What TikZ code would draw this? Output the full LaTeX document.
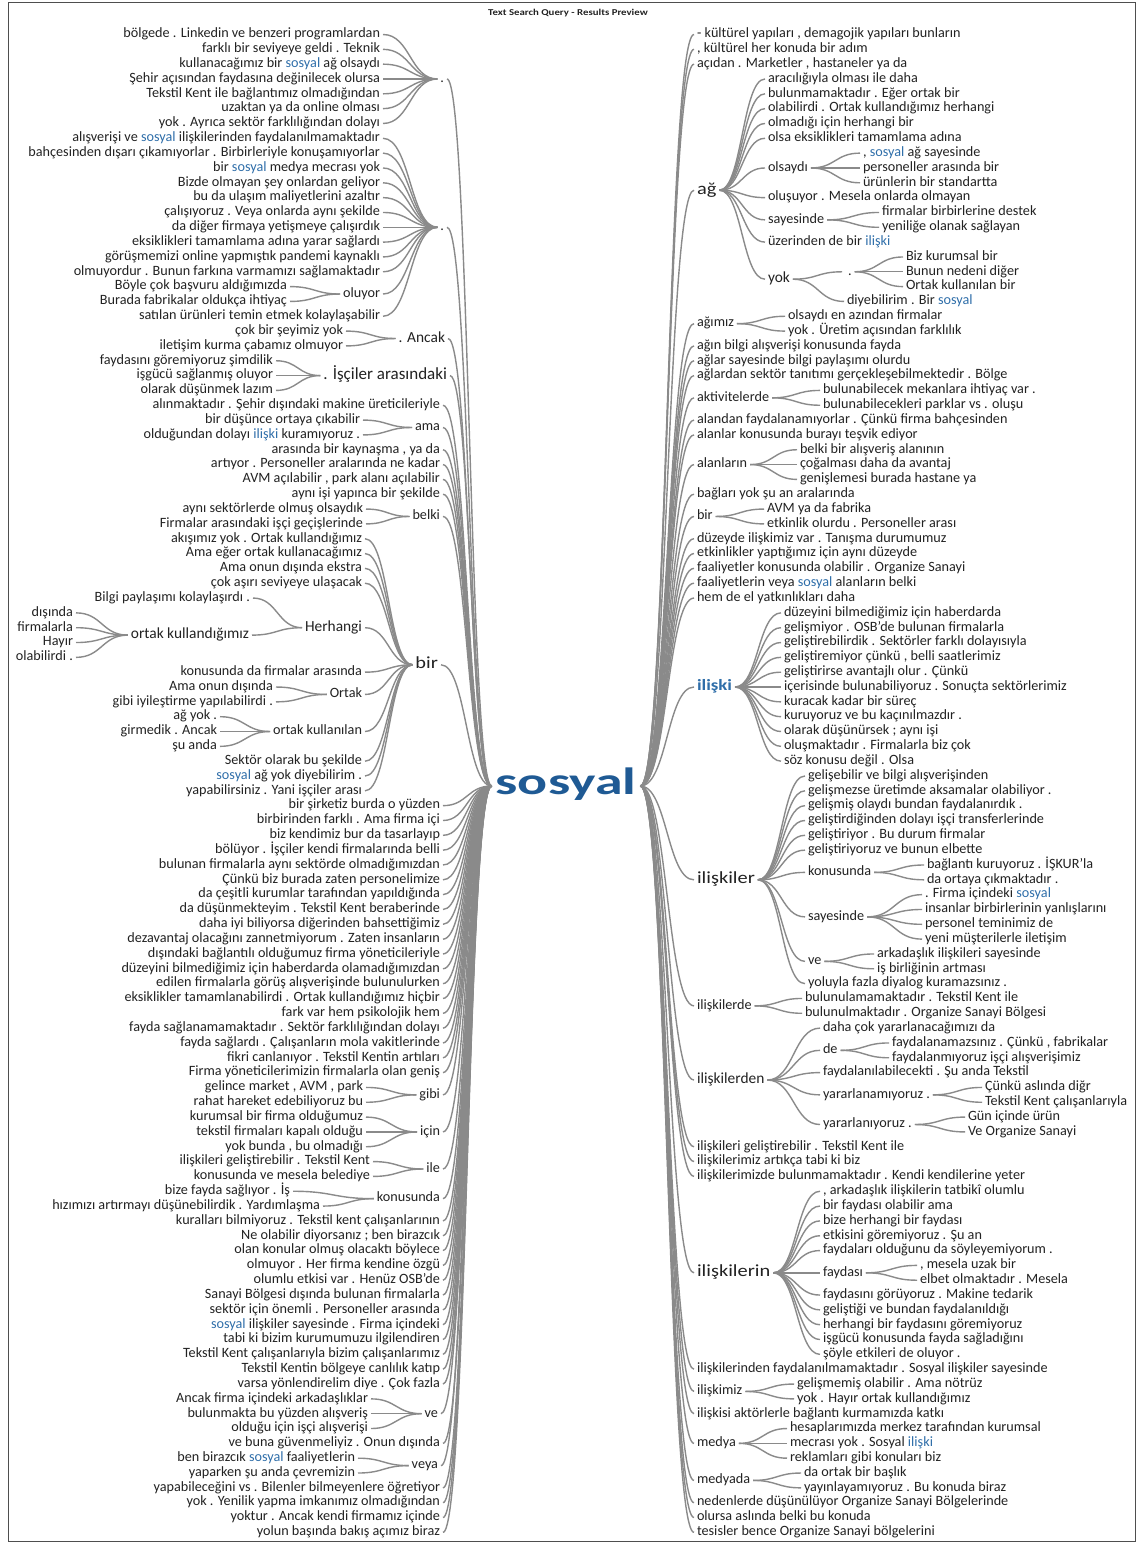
\documentclass[tikz,border=0pt]{standalone}
\usepackage{fontspec}
\setmainfont{Carlito}
\newfontfamily\wideface{Carlito}[FakeStretch=1.2]
\newfontfamily\rootface{Carlito}[FakeStretch=1.47]
\usepackage{tikz}
\usetikzlibrary{calc}
\usepackage{xcolor}
\definecolor{ink}{HTML}{222222}
\definecolor{wire}{HTML}{8A8A8A}
\definecolor{hlblue}{HTML}{2F6EA9}
\definecolor{rootblue}{HTML}{1F5A94}
\newcommand{\hl}[1]{\textcolor{hlblue}{#1}}

\begin{document}
\begin{tikzpicture}[x=1pt,y=-1pt,declare function={row(\i)=34.5+14.83*\i;}]
  \tikzstyle{txt}=[inner sep=0pt,outer sep=3pt,text=ink,font=\fontsize{14.2}{16}\selectfont,text height=9.9pt,text depth=3.3pt]
  \tikzstyle{lft}=[txt,anchor=east]
  \tikzstyle{rgt}=[txt,anchor=west]
  \tikzstyle{med}=[font=\fontsize{15.4}{17}\selectfont,text height=10.8pt,text depth=3.6pt]
  \tikzstyle{mid}=[font=\fontsize{17}{19}\selectfont,text height=11.9pt,text depth=4pt]
  \tikzstyle{big}=[font=\wideface\fontsize{17}{19}\selectfont,text height=11.9pt,text depth=4pt]
  \tikzstyle{link}=[draw=wire,line width=1.4pt]
  \tikzstyle{wt}=[to path={let \p1=(\tikztostart.east),\p2=(\tikztotarget.west),\n1={(\x1+\x2)/2} in (\p1) .. controls (\n1,\y1) and (\n1,\y2) .. (\p2)}]

  \useasboundingbox (0,0) rectangle (1136,1544);
  \draw[ink!80,line width=1pt] (8,2.5) rectangle (1135,1541);
  \node[font=\wideface\bfseries\fontsize{9}{11}\selectfont,text=ink] (title) at (568,13) {Text Search Query - Results Preview};

  \node[inner sep=0pt,outer sep=4pt,text=rootblue,font=\rootface\bfseries\fontsize{38}{40}\selectfont,text height=26.6pt,text depth=8.9pt] (s) at (566,786) {sosyal};

  % left side: words before sosyal
  \node[lft] (Ldot1)      at (447,{row(3)})    {.\hspace{12pt}};
  \node[lft] (L0)         at (383,{row(0)})    {bölgede . Linkedin ve benzeri programlardan};
  \node[lft] (L1)         at (383,{row(1)})    {farklı bir seviyeye geldi . Teknik};
  \node[lft] (L2)         at (383,{row(2)})    {kullanacağımız bir \hl{sosyal} ağ olsaydı};
  \node[lft] (L3)         at (383,{row(3)})    {Şehir açısından faydasına değinilecek olursa};
  \node[lft] (L4)         at (383,{row(4)})    {Tekstil Kent ile bağlantımız olmadığından};
  \node[lft] (L5)         at (383,{row(5)})    {uzaktan ya da online olması};
  \node[lft] (L6)         at (383,{row(6)})    {yok . Ayrıca sektör farklılığından dolayı};

  \node[lft] (Ldot2)      at (447,{row(13)})   {.\hspace{12pt}};
  \node[lft] (L7)         at (383,{row(7)})    {alışverişi ve \hl{sosyal} ilişkilerinden faydalanılmamaktadır};
  \node[lft] (L8)         at (383,{row(8)})    {bahçesinden dışarı çıkamıyorlar . Birbirleriyle konuşamıyorlar};
  \node[lft] (L9)         at (383,{row(9)})    {bir \hl{sosyal} medya mecrası yok};
  \node[lft] (L10)        at (383,{row(10)})   {Bizde olmayan şey onlardan geliyor};
  \node[lft] (L11)        at (383,{row(11)})   {bu da ulaşım maliyetlerini azaltır};
  \node[lft] (L12)        at (383,{row(12)})   {çalışıyoruz . Veya onlarda aynı şekilde};
  \node[lft] (L13)        at (383,{row(13)})   {da diğer firmaya yetişmeye çalışırdık};
  \node[lft] (L14)        at (383,{row(14)})   {eksiklikleri tamamlama adına yarar sağlardı};
  \node[lft] (L15)        at (383,{row(15)})   {görüşmemizi online yapmıştık pandemi kaynaklı};
  \node[lft] (L16)        at (383,{row(16)})   {olmuyordur . Bunun farkına varmamızı sağlamaktadır};
  \node[lft] (Loluyor)    at (383,{row(17.5)}) {oluyor};
  \node[lft] (L17)        at (290,{row(17)})   {Böyle çok başvuru aldığımızda};
  \node[lft] (L18)        at (290,{row(18)})   {Burada fabrikalar oldukça ihtiyaç};
  \node[lft] (L19)        at (383,{row(19)})   {satılan ürünleri temin etmek kolaylaşabilir};

  \node[lft,med] (Lancak) at (448,{row(20.5)}) {. Ancak};
  \node[lft] (L20)        at (346,{row(20)})   {çok bir şeyimiz yok};
  \node[lft] (L21)        at (346,{row(21)})   {iletişim kurma çabamız olmuyor};
  \node[lft,mid] (Lisciler) at (450,{row(23)}) {. İşçiler arasındaki};
  \node[lft] (L22)        at (276,{row(22)})   {faydasını göremiyoruz şimdilik};
  \node[lft] (L23)        at (276,{row(23)})   {işgücü sağlanmış oluyor};
  \node[lft] (L24)        at (276,{row(24)})   {olarak düşünmek lazım};
  \node[lft] (L25)        at (443,{row(25)})   {alınmaktadır . Şehir dışındaki makine üreticileriyle};
  \node[lft] (Lama)       at (443,{row(26.5)}) {ama};
  \node[lft] (L26)        at (363,{row(26)})   {bir düşünce ortaya çıkabilir};
  \node[lft] (L27)        at (363,{row(27)})   {olduğundan dolayı \hl{ilişki} kuramıyoruz .};
  \node[lft] (L28)        at (443,{row(28)})   {arasında bir kaynaşma , ya da};
  \node[lft] (L29)        at (443,{row(29)})   {artıyor . Personeller aralarında ne kadar};
  \node[lft] (L30)        at (443,{row(30)})   {AVM açılabilir , park alanı açılabilir};
  \node[lft] (L31)        at (443,{row(31)})   {aynı işi yapınca bir şekilde};
  \node[lft] (Lbelki)     at (443,{row(32.5)}) {belki};
  \node[lft] (L32)        at (366,{row(32)})   {aynı sektörlerde olmuş olsaydık};
  \node[lft] (L33)        at (366,{row(33)})   {Firmalar arasındaki işçi geçişlerinde};

  \node[lft,big] (Lbir)   at (441,{row(42.5)}) {bir};
  \node[lft] (L34)        at (365,{row(34)})   {akışımız yok . Ortak kullandığımız};
  \node[lft] (L35)        at (365,{row(35)})   {Ama eğer ortak kullanacağımız};
  \node[lft] (L36)        at (365,{row(36)})   {Ama onun dışında ekstra};
  \node[lft] (L37)        at (365,{row(37)})   {çok aşırı seviyeye ulaşacak};
  \node[lft,med] (Lherhangi) at (365,{row(40)}) {Herhangi};
  \node[lft] (L38)        at (253,{row(38)})   {Bilgi paylaşımı kolaylaşırdı .};
  \node[lft,med] (Lortakk) at (252,{row(40.5)}) {ortak kullandığımız};
  \node[lft] (L39)        at (76,{row(39)})    {dışında};
  \node[lft] (L40)        at (76,{row(40)})    {firmalarla};
  \node[lft] (L41)        at (76,{row(41)})    {Hayır};
  \node[lft] (L42)        at (76,{row(42)})    {olabilirdi .};
  \node[lft] (L43)        at (365,{row(43)})   {konusunda da firmalar arasında};
  \node[lft] (Lortak)     at (365,{row(44.5)}) {Ortak};
  \node[lft] (L44)        at (276,{row(44)})   {Ama onun dışında};
  \node[lft] (L45)        at (276,{row(45)})   {gibi iyileştirme yapılabilirdi .};
  \node[lft] (Lortakkl)   at (365,{row(47)})   {ortak kullanılan};
  \node[lft] (L46)        at (220,{row(46)})   {ağ yok .};
  \node[lft] (L47)        at (220,{row(47)})   {girmedik . Ancak};
  \node[lft] (L48)        at (220,{row(48)})   {şu anda};
  \node[lft] (L49)        at (365,{row(49)})   {Sektör olarak bu şekilde};
  \node[lft] (L50)        at (365,{row(50)})   {\hl{sosyal} ağ yok diyebilirim .};
  \node[lft] (L51)        at (365,{row(51)})   {yapabilirsiniz . Yani işçiler arası};

  \node[lft] (L52)        at (443,{row(52)})   {bir şirketiz burda o yüzden};
  \node[lft] (L53)        at (443,{row(53)})   {birbirinden farklı . Ama firma içi};
  \node[lft] (L54)        at (443,{row(54)})   {biz kendimiz bur da tasarlayıp};
  \node[lft] (L55)        at (443,{row(55)})   {bölüyor . İşçiler kendi firmalarında belli};
  \node[lft] (L56)        at (443,{row(56)})   {bulunan firmalarla aynı sektörde olmadığımızdan};
  \node[lft] (L57)        at (443,{row(57)})   {Çünkü biz burada zaten personelimize};
  \node[lft] (L58)        at (443,{row(58)})   {da çeşitli kurumlar tarafından yapıldığında};
  \node[lft] (L59)        at (443,{row(59)})   {da düşünmekteyim . Tekstil Kent beraberinde};
  \node[lft] (L60)        at (443,{row(60)})   {daha iyi biliyorsa diğerinden bahsettiğimiz};
  \node[lft] (L61)        at (443,{row(61)})   {dezavantaj olacağını zannetmiyorum . Zaten insanların};
  \node[lft] (L62)        at (443,{row(62)})   {dışındaki bağlantılı olduğumuz firma yöneticileriyle};
  \node[lft] (L63)        at (443,{row(63)})   {düzeyini bilmediğimiz için haberdarda olamadığımızdan};
  \node[lft] (L64)        at (443,{row(64)})   {edilen firmalarla görüş alışverişinde bulunulurken};
  \node[lft] (L65)        at (443,{row(65)})   {eksiklikler tamamlanabilirdi . Ortak kullandığımız hiçbir};
  \node[lft] (L66)        at (443,{row(66)})   {fark var hem psikolojik hem};
  \node[lft] (L67)        at (443,{row(67)})   {fayda sağlanamamaktadır . Sektör farklılığından dolayı};
  \node[lft] (L68)        at (443,{row(68)})   {fayda sağlardı . Çalışanların mola vakitlerinde};
  \node[lft] (L69)        at (443,{row(69)})   {fikri canlanıyor . Tekstil Kentin artıları};
  \node[lft] (L70)        at (443,{row(70)})   {Firma yöneticilerimizin firmalarla olan geniş};
  \node[lft] (Lgibi)      at (443,{row(71.5)}) {gibi};
  \node[lft] (L71)        at (366,{row(71)})   {gelince market , AVM , park};
  \node[lft] (L72)        at (366,{row(72)})   {rahat hareket edebiliyoruz bu};
  \node[lft] (Licin)      at (443,{row(74)})   {için};
  \node[lft] (L73)        at (366,{row(73)})   {kurumsal bir firma olduğumuz};
  \node[lft] (L74)        at (366,{row(74)})   {tekstil firmaları kapalı olduğu};
  \node[lft] (L75)        at (366,{row(75)})   {yok bunda , bu olmadığı};
  \node[lft] (Lile)       at (443,{row(76.5)}) {ile};
  \node[lft] (L76)        at (373,{row(76)})   {ilişkileri geliştirebilir . Tekstil Kent};
  \node[lft] (L77)        at (373,{row(77)})   {konusunda ve mesela belediye};
  \node[lft] (Lkonusunda) at (443,{row(78.5)}) {konusunda};
  \node[lft] (L78)        at (293,{row(78)})   {bize fayda sağlıyor . İş};
  \node[lft] (L79)        at (323,{row(79)})   {hızımızı artırmayı düşünebilirdik . Yardımlaşma};
  \node[lft] (L80)        at (443,{row(80)})   {kuralları bilmiyoruz . Tekstil kent çalışanlarının};
  \node[lft] (L81)        at (443,{row(81)})   {Ne olabilir diyorsanız ; ben birazcık};
  \node[lft] (L82)        at (443,{row(82)})   {olan konular olmuş olacaktı böylece};
  \node[lft] (L83)        at (443,{row(83)})   {olmuyor . Her firma kendine özgü};
  \node[lft] (L84)        at (443,{row(84)})   {olumlu etkisi var . Henüz OSB'de};
  \node[lft] (L85)        at (443,{row(85)})   {Sanayi Bölgesi dışında bulunan firmalarla};
  \node[lft] (L86)        at (443,{row(86)})   {sektör için önemli . Personeller arasında};
  \node[lft] (L87)        at (443,{row(87)})   {\hl{sosyal} ilişkiler sayesinde . Firma içindeki};
  \node[lft] (L88)        at (443,{row(88)})   {tabi ki bizim kurumumuzu ilgilendiren};
  \node[lft] (L89)        at (443,{row(89)})   {Tekstil Kent çalışanlarıyla bizim çalışanlarımız};
  \node[lft] (L90)        at (443,{row(90)})   {Tekstil Kentin bölgeye canlılık katıp};
  \node[lft] (L91)        at (443,{row(91)})   {varsa yönlendirelim diye . Çok fazla};
  \node[lft] (Lve)        at (441,{row(93)})   {ve};
  \node[lft] (L92)        at (371,{row(92)})   {Ancak firma içindeki arkadaşlıklar};
  \node[lft] (L93)        at (371,{row(93)})   {bulunmakta bu yüzden alışveriş};
  \node[lft] (L94)        at (371,{row(94)})   {olduğu için işçi alışverişi};
  \node[lft] (L95)        at (443,{row(95)})   {ve buna güvenmeliyiz . Onun dışında};
  \node[lft] (Lveya)      at (441,{row(96.5)}) {veya};
  \node[lft] (L96)        at (358,{row(96)})   {ben birazcık \hl{sosyal} faaliyetlerin};
  \node[lft] (L97)        at (358,{row(97)})   {yaparken şu anda çevremizin};
  \node[lft] (L98)        at (443,{row(98)})   {yapabileceğini vs . Bilenler bilmeyenlere öğretiyor};
  \node[lft] (L99)        at (443,{row(99)})   {yok . Yenilik yapma imkanımız olmadığından};
  \node[lft] (L100)       at (443,{row(100)})  {yoktur . Ancak kendi firmamız içinde};
  \node[lft] (L101)       at (443,{row(101)})  {yolun başında bakış açımız biraz};

  % right side: words after sosyal
  \node[rgt] (R0)         at (694,{row(0)})    {- kültürel yapıları , demagojik yapıları bunların};
  \node[rgt] (R1)         at (694,{row(1)})    {, kültürel her konuda bir adım};
  \node[rgt] (R2)         at (694,{row(2)})    {açıdan . Marketler , hastaneler ya da};
  \node[rgt,big] (Rag)    at (694,{row(10.5)}) {ağ};
  \node[rgt] (R3)         at (765,{row(3)})    {aracılığıyla olması ile daha};
  \node[rgt] (R4)         at (765,{row(4)})    {bulunmamaktadır . Eğer ortak bir};
  \node[rgt] (R5)         at (765,{row(5)})    {olabilirdi . Ortak kullandığımız herhangi};
  \node[rgt] (R6)         at (765,{row(6)})    {olmadığı için herhangi bir};
  \node[rgt] (R7)         at (765,{row(7)})    {olsa eksiklikleri tamamlama adına};
  \node[rgt] (Rolsaydi)   at (765,{row(9)})    {olsaydı};
  \node[rgt] (R8)         at (860,{row(8)})    {, \hl{sosyal} ağ sayesinde};
  \node[rgt] (R9)         at (860,{row(9)})    {personeller arasında bir};
  \node[rgt] (R10)        at (860,{row(10)})   {ürünlerin bir standartta};
  \node[rgt] (R11)        at (765,{row(11)})   {oluşuyor . Mesela onlarda olmayan};
  \node[rgt] (Rsayesinde) at (765,{row(12.5)}) {sayesinde};
  \node[rgt] (R12)        at (879,{row(12)})   {firmalar birbirlerine destek};
  \node[rgt] (R13)        at (879,{row(13)})   {yeniliğe olanak sağlayan};
  \node[rgt] (R14)        at (765,{row(14)})   {üzerinden de bir \hl{ilişki}};
  \node[rgt,med] (Ryok)   at (765,{row(16.5)}) {yok};
  \node[rgt] (Rdot)       at (842,{row(16)})   {\hspace{3pt}.\hspace{6pt}};
  \node[rgt] (R15)        at (903,{row(15)})   {Biz kurumsal bir};
  \node[rgt] (R16)        at (903,{row(16)})   {Bunun nedeni diğer};
  \node[rgt] (R17)        at (903,{row(17)})   {Ortak kullanılan bir};
  \node[rgt] (R18)        at (844,{row(18)})   {diyebilirim . Bir \hl{sosyal}};
  \node[rgt] (Ragimiz)    at (694,{row(19.5)}) {ağımız};
  \node[rgt] (R19)        at (785,{row(19)})   {olsaydı en azından firmalar};
  \node[rgt] (R20)        at (785,{row(20)})   {yok . Üretim açısından farklılık};
  \node[rgt] (R21)        at (694,{row(21)})   {ağın bilgi alışverişi konusunda fayda};
  \node[rgt] (R22)        at (694,{row(22)})   {ağlar sayesinde bilgi paylaşımı olurdu};
  \node[rgt] (R23)        at (694,{row(23)})   {ağlardan sektör tanıtımı gerçekleşebilmektedir . Bölge};
  \node[rgt] (Raktivitelerde) at (694,{row(24.5)}) {aktivitelerde};
  \node[rgt] (R24)        at (820,{row(24)})   {bulunabilecek mekanlara ihtiyaç var .};
  \node[rgt] (R25)        at (820,{row(25)})   {bulunabilecekleri parklar vs . oluşu};
  \node[rgt] (R26)        at (694,{row(26)})   {alandan faydalanamıyorlar . Çünkü firma bahçesinden};
  \node[rgt] (R27)        at (694,{row(27)})   {alanlar konusunda burayı teşvik ediyor};
  \node[rgt] (Ralanlarin) at (694,{row(29)})   {alanların};
  \node[rgt] (R28)        at (797,{row(28)})   {belki bir alışveriş alanının};
  \node[rgt] (R29)        at (797,{row(29)})   {çoğalması daha da avantaj};
  \node[rgt] (R30)        at (797,{row(30)})   {genişlemesi burada hastane ya};
  \node[rgt] (R31)        at (694,{row(31)})   {bağları yok şu an aralarında};
  \node[rgt] (Rbir)       at (694,{row(32.5)}) {bir};
  \node[rgt] (R32)        at (764,{row(32)})   {AVM ya da fabrika};
  \node[rgt] (R33)        at (764,{row(33)})   {etkinlik olurdu . Personeller arası};
  \node[rgt] (R34)        at (694,{row(34)})   {düzeyde ilişkimiz var . Tanışma durumumuz};
  \node[rgt] (R35)        at (694,{row(35)})   {etkinlikler yaptığımız için aynı düzeyde};
  \node[rgt] (R36)        at (694,{row(36)})   {faaliyetler konusunda olabilir . Organize Sanayi};
  \node[rgt] (R37)        at (694,{row(37)})   {faaliyetlerin veya \hl{sosyal} alanların belki};
  \node[rgt] (R38)        at (694,{row(38)})   {hem de el yatkınlıkları daha};

  \node[rgt,text=hlblue,font=\wideface\bfseries\fontsize{15.7}{17}\selectfont,text height=11pt,text depth=3.7pt] (Riliski) at (694,{row(44)}) {ilişki};
  \node[rgt] (R39)        at (781,{row(39)})   {düzeyini bilmediğimiz için haberdarda};
  \node[rgt] (R40)        at (781,{row(40)})   {gelişmiyor . OSB'de bulunan firmalarla};
  \node[rgt] (R41)        at (781,{row(41)})   {geliştirebilirdik . Sektörler farklı dolayısıyla};
  \node[rgt] (R42)        at (781,{row(42)})   {geliştiremiyor çünkü , belli saatlerimiz};
  \node[rgt] (R43)        at (781,{row(43)})   {geliştirirse avantajlı olur . Çünkü};
  \node[rgt] (R44)        at (781,{row(44)})   {içerisinde bulunabiliyoruz . Sonuçta sektörlerimiz};
  \node[rgt] (R45)        at (781,{row(45)})   {kuracak kadar bir süreç};
  \node[rgt] (R46)        at (781,{row(46)})   {kuruyoruz ve bu kaçınılmazdır .};
  \node[rgt] (R47)        at (781,{row(47)})   {olarak düşünürsek ; aynı işi};
  \node[rgt] (R48)        at (781,{row(48)})   {oluşmaktadır . Firmalarla biz çok};
  \node[rgt] (R49)        at (781,{row(49)})   {söz konusu değil . Olsa};

  \node[rgt,big] (Riliskiler) at (694,{row(57)}) {ilişkiler};
  \node[rgt] (R50)        at (805,{row(50)})   {gelişebilir ve bilgi alışverişinden};
  \node[rgt] (R51)        at (805,{row(51)})   {gelişmezse üretimde aksamalar olabiliyor .};
  \node[rgt] (R52)        at (805,{row(52)})   {gelişmiş olaydı bundan faydalanırdık .};
  \node[rgt] (R53)        at (805,{row(53)})   {geliştirdiğinden dolayı işçi transferlerinde};
  \node[rgt] (R54)        at (805,{row(54)})   {geliştiriyor . Bu durum firmalar};
  \node[rgt] (R55)        at (805,{row(55)})   {geliştiriyoruz ve bunun elbette};
  \node[rgt] (Rkonusunda) at (805,{row(56.5)}) {konusunda};
  \node[rgt] (R56)        at (924,{row(56)})   {bağlantı kuruyoruz . İŞKUR'la};
  \node[rgt] (R57)        at (924,{row(57)})   {da ortaya çıkmaktadır .};
  \node[rgt] (Rsayesinde2) at (805,{row(59.5)}) {sayesinde};
  \node[rgt] (R58)        at (922,{row(58)})   {. Firma içindeki \hl{sosyal}};
  \node[rgt] (R59)        at (922,{row(59)})   {insanlar birbirlerinin yanlışlarını};
  \node[rgt] (R60)        at (922,{row(60)})   {personel teminimiz de};
  \node[rgt] (R61)        at (922,{row(61)})   {yeni müşterilerle iletişim};
  \node[rgt] (Rve)        at (805,{row(62.5)}) {ve};
  \node[rgt] (R62)        at (874,{row(62)})   {arkadaşlık ilişkileri sayesinde};
  \node[rgt] (R63)        at (874,{row(63)})   {iş birliğinin artması};
  \node[rgt] (R64)        at (805,{row(64)})   {yoluyla fazla diyalog kuramazsınız .};

  \node[rgt] (Riliskilerde) at (694,{row(65.5)}) {ilişkilerde};
  \node[rgt] (R65)        at (802,{row(65)})   {bulunulamamaktadır . Tekstil Kent ile};
  \node[rgt] (R66)        at (802,{row(66)})   {bulunulmaktadır . Organize Sanayi Bölgesi};
  \node[rgt,med] (Riliskilerden) at (694,{row(70.5)}) {ilişkilerden};
  \node[rgt] (R67)        at (820,{row(67)})   {daha çok yararlanacağımızı da};
  \node[rgt] (Rde)        at (820,{row(68.5)}) {de};
  \node[rgt] (R68)        at (889,{row(68)})   {faydalanamazsınız . Çünkü , fabrikalar};
  \node[rgt] (R69)        at (889,{row(69)})   {faydalanmıyoruz işçi alışverişimiz};
  \node[rgt] (R70)        at (820,{row(70)})   {faydalanılabilecekti . Şu anda Tekstil};
  \node[rgt] (Ryararlanamiyoruz) at (820,{row(71.5)}) {yararlanamıyoruz .};
  \node[rgt] (R71)        at (982,{row(71)})   {Çünkü aslında diğr};
  \node[rgt] (R72)        at (982,{row(72)})   {Tekstil Kent çalışanlarıyla};
  \node[rgt] (Ryararlaniyoruz) at (820,{row(73.5)}) {yararlanıyoruz .};
  \node[rgt] (R73)        at (965,{row(73)})   {Gün içinde ürün};
  \node[rgt] (R74)        at (965,{row(74)})   {Ve Organize Sanayi};
  \node[rgt] (R75)        at (694,{row(75)})   {ilişkileri geliştirebilir . Tekstil Kent ile};
  \node[rgt] (R76)        at (694,{row(76)})   {ilişkilerimiz artıkça tabi ki biz};
  \node[rgt] (R77)        at (694,{row(77)})   {ilişkilerimizde bulunmamaktadır . Kendi kendilerine yeter};

  \node[rgt,big] (Riliskilerin) at (694,{row(83.5)}) {ilişkilerin};
  \node[rgt] (R78)        at (820,{row(78)})   {, arkadaşlık ilişkilerin tatbikî olumlu};
  \node[rgt] (R79)        at (820,{row(79)})   {bir faydası olabilir ama};
  \node[rgt] (R80)        at (820,{row(80)})   {bize herhangi bir faydası};
  \node[rgt] (R81)        at (820,{row(81)})   {etkisini göremiyoruz . Şu an};
  \node[rgt] (R82)        at (820,{row(82)})   {faydaları olduğunu da söyleyemiyorum .};
  \node[rgt] (Rfaydasi)   at (820,{row(83.5)}) {faydası};
  \node[rgt] (R83)        at (917,{row(83)})   {, mesela uzak bir};
  \node[rgt] (R84)        at (917,{row(84)})   {elbet olmaktadır . Mesela};
  \node[rgt] (R85)        at (820,{row(85)})   {faydasını görüyoruz . Makine tedarik};
  \node[rgt] (R86)        at (820,{row(86)})   {geliştiği ve bundan faydalanıldığı};
  \node[rgt] (R87)        at (820,{row(87)})   {herhangi bir faydasını göremiyoruz};
  \node[rgt] (R88)        at (820,{row(88)})   {işgücü konusunda fayda sağladığını};
  \node[rgt] (R89)        at (820,{row(89)})   {şöyle etkileri de oluyor .};
  \node[rgt] (R90)        at (694,{row(90)})   {ilişkilerinden faydalanılmamaktadır . Sosyal ilişkiler sayesinde};
  \node[rgt] (Riliskimiz) at (694,{row(91.5)}) {ilişkimiz};
  \node[rgt] (R91)        at (794,{row(91)})   {gelişmemiş olabilir . Ama nötrüz};
  \node[rgt] (R92)        at (794,{row(92)})   {yok . Hayır ortak kullandığımız};
  \node[rgt] (R93)        at (694,{row(93)})   {ilişkisi aktörlerle bağlantı kurmamızda katkı};
  \node[rgt] (Rmedya)     at (694,{row(95)})   {medya};
  \node[rgt] (R94)        at (787,{row(94)})   {hesaplarımızda merkez tarafından kurumsal};
  \node[rgt] (R95)        at (787,{row(95)})   {mecrası yok . Sosyal \hl{ilişki}};
  \node[rgt] (R96)        at (787,{row(96)})   {reklamları gibi konuları biz};
  \node[rgt] (Rmedyada)   at (694,{row(97.5)}) {medyada};
  \node[rgt] (R97)        at (801,{row(97)})   {da ortak bir başlık};
  \node[rgt] (R98)        at (801,{row(98)})   {yayınlayamıyoruz . Bu konuda biraz};
  \node[rgt] (R99)        at (694,{row(99)})   {nedenlerde düşünülüyor Organize Sanayi Bölgelerinde};
  \node[rgt] (R100)       at (694,{row(100)})  {olursa aslında belki bu konuda};
  \node[rgt] (R101)       at (694,{row(101)})  {tesisler bence Organize Sanayi bölgelerini};

  % left connectors
  \path[link]
  (L0) edge[wt] (Ldot1)  (L1) edge[wt] (Ldot1)  (L2) edge[wt] (Ldot1)  (L3) edge[wt] (Ldot1)
  (L4) edge[wt] (Ldot1)  (L5) edge[wt] (Ldot1)  (L6) edge[wt] (Ldot1)
  (L7) edge[wt] (Ldot2)  (L8) edge[wt] (Ldot2)  (L9) edge[wt] (Ldot2)  (L10) edge[wt] (Ldot2)
  (L11) edge[wt] (Ldot2) (L12) edge[wt] (Ldot2) (L13) edge[wt] (Ldot2) (L14) edge[wt] (Ldot2)
  (L15) edge[wt] (Ldot2) (L16) edge[wt] (Ldot2) (Loluyor) edge[wt] (Ldot2) (L19) edge[wt] (Ldot2)
  (L17) edge[wt] (Loluyor) (L18) edge[wt] (Loluyor)
  (L20) edge[wt] (Lancak) (L21) edge[wt] (Lancak)
  (L22) edge[wt] (Lisciler) (L23) edge[wt] (Lisciler) (L24) edge[wt] (Lisciler)
  (L26) edge[wt] (Lama) (L27) edge[wt] (Lama)
  (L32) edge[wt] (Lbelki) (L33) edge[wt] (Lbelki)
  (L34) edge[wt] (Lbir) (L35) edge[wt] (Lbir) (L36) edge[wt] (Lbir) (L37) edge[wt] (Lbir)
  (Lherhangi) edge[wt] (Lbir) (L43) edge[wt] (Lbir) (Lortak) edge[wt] (Lbir) (Lortakkl) edge[wt] (Lbir)
  (L49) edge[wt] (Lbir) (L50) edge[wt] (Lbir) (L51) edge[wt] (Lbir)
  (L38) edge[wt] (Lherhangi) (Lortakk) edge[wt] (Lherhangi)
  (L39) edge[wt] (Lortakk) (L40) edge[wt] (Lortakk) (L41) edge[wt] (Lortakk) (L42) edge[wt] (Lortakk)
  (L44) edge[wt] (Lortak) (L45) edge[wt] (Lortak)
  (L46) edge[wt] (Lortakkl) (L47) edge[wt] (Lortakkl) (L48) edge[wt] (Lortakkl)
  (L71) edge[wt] (Lgibi) (L72) edge[wt] (Lgibi)
  (L73) edge[wt] (Licin) (L74) edge[wt] (Licin) (L75) edge[wt] (Licin)
  (L76) edge[wt] (Lile) (L77) edge[wt] (Lile)
  (L78) edge[wt] (Lkonusunda) (L79) edge[wt] (Lkonusunda)
  (L92) edge[wt] (Lve) (L93) edge[wt] (Lve) (L94) edge[wt] (Lve)
  (L96) edge[wt] (Lveya) (L97) edge[wt] (Lveya)
  ;
  \path[link]
  (Ldot1) edge[wt] (s) (Ldot2) edge[wt] (s) (Lancak) edge[wt] (s) (Lisciler) edge[wt] (s)
  (L25) edge[wt] (s) (Lama) edge[wt] (s) (L28) edge[wt] (s) (L29) edge[wt] (s)
  (L30) edge[wt] (s) (L31) edge[wt] (s) (Lbelki) edge[wt] (s) (Lbir) edge[wt] (s)
  (L52) edge[wt] (s) (L53) edge[wt] (s) (L54) edge[wt] (s) (L55) edge[wt] (s)
  (L56) edge[wt] (s) (L57) edge[wt] (s) (L58) edge[wt] (s) (L59) edge[wt] (s)
  (L60) edge[wt] (s) (L61) edge[wt] (s) (L62) edge[wt] (s) (L63) edge[wt] (s)
  (L64) edge[wt] (s) (L65) edge[wt] (s) (L66) edge[wt] (s) (L67) edge[wt] (s)
  (L68) edge[wt] (s) (L69) edge[wt] (s) (L70) edge[wt] (s) (Lgibi) edge[wt] (s)
  (Licin) edge[wt] (s) (Lile) edge[wt] (s) (Lkonusunda) edge[wt] (s)
  (L80) edge[wt] (s) (L81) edge[wt] (s) (L82) edge[wt] (s) (L83) edge[wt] (s)
  (L84) edge[wt] (s) (L85) edge[wt] (s) (L86) edge[wt] (s) (L87) edge[wt] (s)
  (L88) edge[wt] (s) (L89) edge[wt] (s) (L90) edge[wt] (s) (L91) edge[wt] (s)
  (Lve) edge[wt] (s) (L95) edge[wt] (s) (Lveya) edge[wt] (s)
  (L98) edge[wt] (s) (L99) edge[wt] (s) (L100) edge[wt] (s) (L101) edge[wt] (s)
  ;

  % right connectors
  \path[link]
  (s) edge[wt] (R0) (s) edge[wt] (R1) (s) edge[wt] (R2) (s) edge[wt] (Rag)
  (s) edge[wt] (Ragimiz) (s) edge[wt] (R21) (s) edge[wt] (R22) (s) edge[wt] (R23)
  (s) edge[wt] (Raktivitelerde) (s) edge[wt] (R26) (s) edge[wt] (R27) (s) edge[wt] (Ralanlarin)
  (s) edge[wt] (R31) (s) edge[wt] (Rbir) (s) edge[wt] (R34) (s) edge[wt] (R35)
  (s) edge[wt] (R36) (s) edge[wt] (R37) (s) edge[wt] (R38) (s) edge[wt] (Riliski)
  (s) edge[wt] (Riliskiler) (s) edge[wt] (Riliskilerde) (s) edge[wt] (Riliskilerden)
  (s) edge[wt] (R75) (s) edge[wt] (R76) (s) edge[wt] (R77) (s) edge[wt] (Riliskilerin)
  (s) edge[wt] (R90) (s) edge[wt] (Riliskimiz) (s) edge[wt] (R93) (s) edge[wt] (Rmedya)
  (s) edge[wt] (Rmedyada) (s) edge[wt] (R99) (s) edge[wt] (R100) (s) edge[wt] (R101)
  ;
  \path[link]
  (Rag) edge[wt] (R3) (Rag) edge[wt] (R4) (Rag) edge[wt] (R5) (Rag) edge[wt] (R6) (Rag) edge[wt] (R7)
  (Rag) edge[wt] (Rolsaydi) (Rag) edge[wt] (R11) (Rag) edge[wt] (Rsayesinde) (Rag) edge[wt] (R14) (Rag) edge[wt] (Ryok)
  (Rolsaydi) edge[wt] (R8) (Rolsaydi) edge[wt] (R9) (Rolsaydi) edge[wt] (R10)
  (Rsayesinde) edge[wt] (R12) (Rsayesinde) edge[wt] (R13)
  (Ryok) edge[wt] (Rdot) (Ryok) edge[wt] (R18)
  (Rdot) edge[wt] (R15) (Rdot) edge[wt] (R16) (Rdot) edge[wt] (R17)
  (Ragimiz) edge[wt] (R19) (Ragimiz) edge[wt] (R20)
  (Raktivitelerde) edge[wt] (R24) (Raktivitelerde) edge[wt] (R25)
  (Ralanlarin) edge[wt] (R28) (Ralanlarin) edge[wt] (R29) (Ralanlarin) edge[wt] (R30)
  (Rbir) edge[wt] (R32) (Rbir) edge[wt] (R33)
  (Riliski) edge[wt] (R39) (Riliski) edge[wt] (R40) (Riliski) edge[wt] (R41) (Riliski) edge[wt] (R42)
  (Riliski) edge[wt] (R43) (Riliski) edge[wt] (R44) (Riliski) edge[wt] (R45) (Riliski) edge[wt] (R46)
  (Riliski) edge[wt] (R47) (Riliski) edge[wt] (R48) (Riliski) edge[wt] (R49)
  (Riliskiler) edge[wt] (R50) (Riliskiler) edge[wt] (R51) (Riliskiler) edge[wt] (R52)
  (Riliskiler) edge[wt] (R53) (Riliskiler) edge[wt] (R54) (Riliskiler) edge[wt] (R55)
  (Riliskiler) edge[wt] (Rkonusunda) (Riliskiler) edge[wt] (Rsayesinde2) (Riliskiler) edge[wt] (Rve) (Riliskiler) edge[wt] (R64)
  (Rkonusunda) edge[wt] (R56) (Rkonusunda) edge[wt] (R57)
  (Rsayesinde2) edge[wt] (R58) (Rsayesinde2) edge[wt] (R59) (Rsayesinde2) edge[wt] (R60) (Rsayesinde2) edge[wt] (R61)
  (Rve) edge[wt] (R62) (Rve) edge[wt] (R63)
  (Riliskilerde) edge[wt] (R65) (Riliskilerde) edge[wt] (R66)
  (Riliskilerden) edge[wt] (R67) (Riliskilerden) edge[wt] (Rde) (Riliskilerden) edge[wt] (R70)
  (Riliskilerden) edge[wt] (Ryararlanamiyoruz) (Riliskilerden) edge[wt] (Ryararlaniyoruz)
  (Rde) edge[wt] (R68) (Rde) edge[wt] (R69)
  (Ryararlanamiyoruz) edge[wt] (R71) (Ryararlanamiyoruz) edge[wt] (R72)
  (Ryararlaniyoruz) edge[wt] (R73) (Ryararlaniyoruz) edge[wt] (R74)
  (Riliskilerin) edge[wt] (R78) (Riliskilerin) edge[wt] (R79) (Riliskilerin) edge[wt] (R80)
  (Riliskilerin) edge[wt] (R81) (Riliskilerin) edge[wt] (R82) (Riliskilerin) edge[wt] (Rfaydasi)
  (Riliskilerin) edge[wt] (R85) (Riliskilerin) edge[wt] (R86) (Riliskilerin) edge[wt] (R87)
  (Riliskilerin) edge[wt] (R88) (Riliskilerin) edge[wt] (R89)
  (Rfaydasi) edge[wt] (R83) (Rfaydasi) edge[wt] (R84)
  (Riliskimiz) edge[wt] (R91) (Riliskimiz) edge[wt] (R92)
  (Rmedya) edge[wt] (R94) (Rmedya) edge[wt] (R95) (Rmedya) edge[wt] (R96)
  (Rmedyada) edge[wt] (R97) (Rmedyada) edge[wt] (R98)
  ;
\end{tikzpicture}
\end{document}
